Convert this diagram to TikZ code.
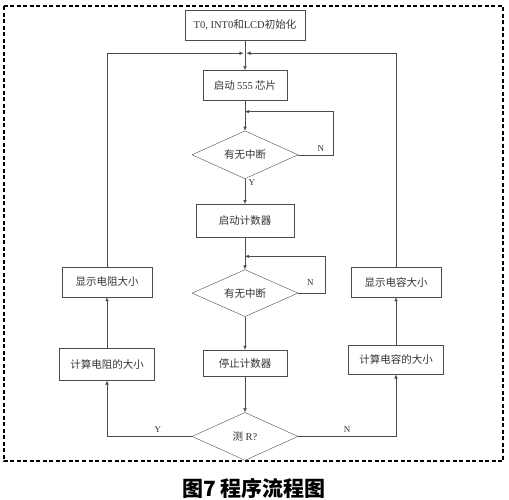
\documentclass[tikz,border=0pt]{standalone}
\usepackage{fontspec}
\setmainfont{Liberation Serif}
\newfontfamily\cjk{Noto Sans CJK SC}
\usetikzlibrary{positioning,shapes.geometric,arrows.meta}

\begin{document}
\begin{tikzpicture}[x=1pt,y=-1pt,
    box/.style={draw=black!70, minimum height=30pt, inner sep=1pt, text=black!80,
      font=\cjk\fontsize{10.5}{12}\selectfont},
    query/.style={diamond, draw=black!70, aspect=2.2, minimum width=106pt, minimum height=48pt,
      inner sep=0pt, text=black!80, font=\cjk\fontsize{10.5}{12}\selectfont},
    flow/.style={draw=black!70, -{Latex[length=4pt,width=3.5pt]}},
    yn/.style={font=\fontsize{9}{10}\selectfont, text=black!80}]
    \useasboundingbox (0,0) rectangle (509,499);
    \draw[line width=1.2pt, dash pattern=on 4pt off 2.5pt] (4,6) rectangle (503,461);

    \node[box, minimum width=120pt] (init) at (245,25) {{\rmfamily T0, INT0}和{\rmfamily LCD}初始化};
    \coordinate[below=13pt of init] (join);
    \node[box, minimum width=84pt, below=30pt of init] (chip) {启动 {\rmfamily 555} 芯片};
    \coordinate[below=11pt of chip] (ra);
    \node[query, below=30pt of chip] (irqa) {有无中断};
    \node[box, minimum width=98pt, minimum height=33pt, below=25pt of irqa] (cnt) {启动计数器};
    \coordinate[below=19pt of cnt] (rb);
    \node[query, minimum height=47pt, below=32pt of cnt] (irqb) {有无中断};
    \node[box, minimum width=84pt, minimum height=26pt, below=33pt of irqb] (stop) {停止计数器};
    \node[query, below=36pt of stop] (isR) {测{\rmfamily\ R?}};

    \node[box, minimum width=90pt] (showR) at (107,282) {显示电阻大小};
    \node[box, minimum width=95pt, minimum height=32pt, below=51pt of showR] (calcR) {计算电阻的大小};
    \node[box, minimum width=90pt] (showC) at (396,282) {显示电容大小};
    \node[box, minimum width=95pt, minimum height=29pt, below=48pt of showC] (calcC) {计算电容的大小};

    \node[font=\cjk\bfseries\fontsize{21}{24}\selectfont] (cap) at (254,488) {图7 程序流程图};

    \draw[flow] (init) -- (chip);
    \draw[flow] (chip) -- (irqa);
    \draw[flow] (irqa.east) -- node[yn, above, pos=0.65] {N} ++(35,0) |- (ra);
    \draw[flow] (irqa) -- node[yn, right, pos=0.15] {Y} (cnt);
    \draw[flow] (cnt) -- (irqb);
    \draw[flow] (irqb.east) -- node[yn, above=4pt, pos=0.45] {N} ++(27,0) |- (rb);
    \draw[flow] (irqb) -- (stop);
    \draw[flow] (stop) -- (isR);
    \draw[flow] (isR) -| node[yn, above, pos=0.2] {Y} (calcR);
    \draw[flow] (isR) -| node[yn, above, pos=0.25] {N} (calcC);
    \draw[flow] (calcR) -- (showR);
    \draw[flow] (calcC) -- (showC);
    \draw[flow, shorten >=1.5pt] (showR) |- (join);
    \draw[flow, shorten >=1.5pt] (showC) |- (join);
\end{tikzpicture}
\end{document}
